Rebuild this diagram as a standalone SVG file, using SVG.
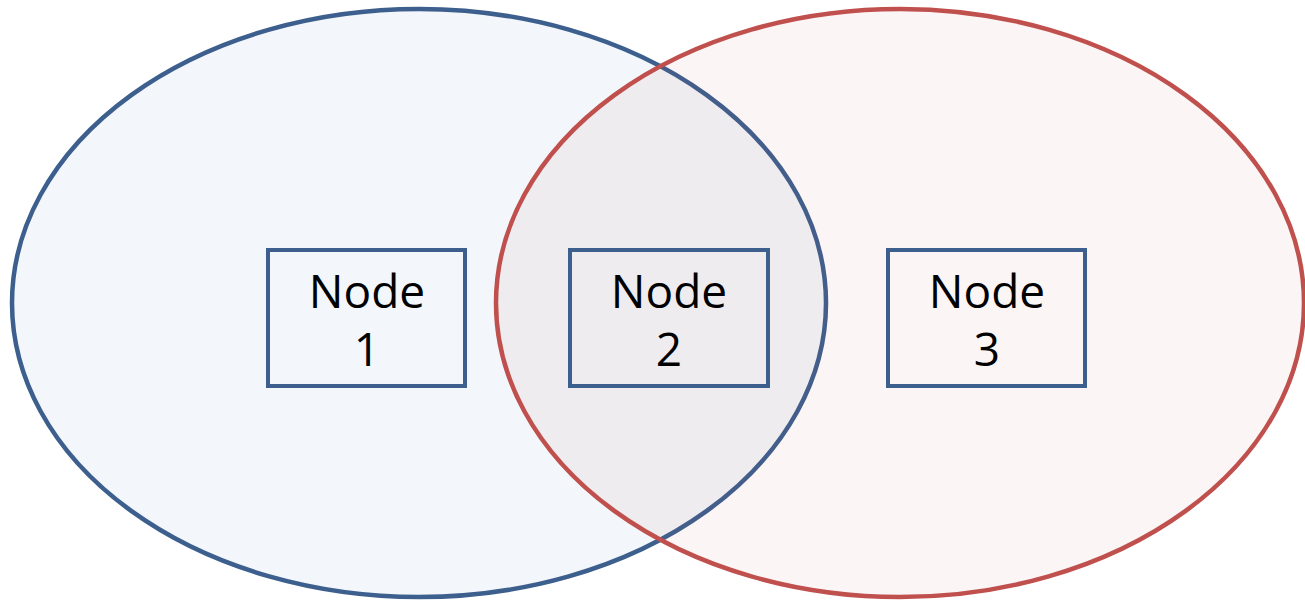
<svg xmlns="http://www.w3.org/2000/svg" width="1305" height="601" viewBox="0 0 1305 601">
<style>
.set{stroke-width:4.5}
.blue{fill:#4F81BD;fill-opacity:0.07;stroke:#3C5F8E}
.red{fill:#C0504D;fill-opacity:0.06;stroke:#C0504D}
.box{fill:none;stroke:#3C5F8E;stroke-width:4}
.lbl{font-family:"Open Sans","Noto Sans",sans-serif;font-size:46px;fill:#000;text-anchor:middle}
</style>
<rect width="1305" height="601" fill="#fff"/>
<g id="sets">
<ellipse id="set-blue" class="set blue" cx="419" cy="303" rx="407" ry="294"/>
<ellipse id="set-red" class="set red" cx="900" cy="303" rx="404" ry="294"/>
</g>
<g id="connectors"></g>
<g id="node1">
<rect class="box" x="268" y="250" width="197" height="136"/>
<text class="lbl" x="367" y="308">Node</text>
<text class="lbl" x="367" y="366">1</text>
</g>
<g id="node2">
<rect class="box" x="570" y="250" width="198" height="136"/>
<text class="lbl" x="669" y="308">Node</text>
<text class="lbl" x="669" y="366">2</text>
</g>
<g id="node3">
<rect class="box" x="888" y="250" width="197" height="136"/>
<text class="lbl" x="987" y="308">Node</text>
<text class="lbl" x="987" y="366">3</text>
</g>
</svg>
